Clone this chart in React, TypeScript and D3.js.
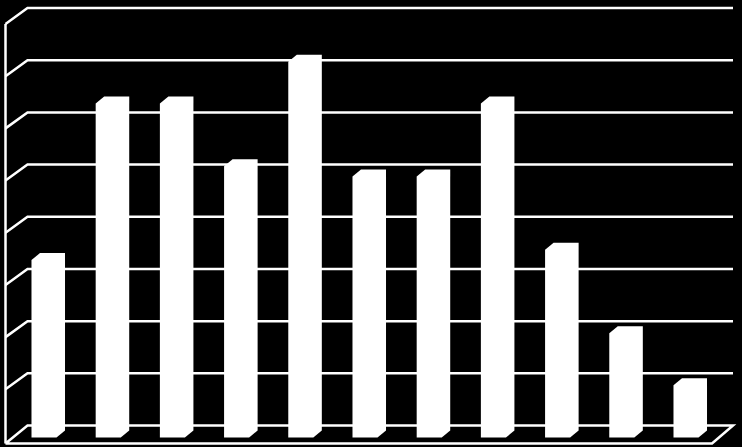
import React, { useEffect, useRef } from "react";
import * as d3 from "d3";

const categories = ["1", "2", "3", "4", "5", "6", "7", "8", "9", "10", "11"];
const values = [3.4, 6.4, 6.4, 5.2, 7.2, 5.0, 5.0, 6.4, 3.6, 2.0, 1.0];
const yTicks = [0, 1, 2, 3, 4, 5, 6, 7, 8];

export default function App() {
  const chartRef = useRef<SVGSVGElement | null>(null);

  useEffect(() => {
    const width = 742;
    const height = 447;
    // 3d offset between the front of the floor and the back wall
    const wallDx = 22;
    const wallDy = 18;
    // depth of a bar
    const barDx = 8.5;
    const barDy = 7;

    const chart = d3.select(chartRef.current);
    chart.selectAll("*").remove();

    chart
      .append("rect")
      .attr("width", width)
      .attr("height", height)
      .attr("fill", "#000");

    const xScale = d3
      .scaleBand()
      .domain(categories)
      .range([11.9, 718.1])
      .paddingInner(0.61)
      .paddingOuter(0.305);
    const yScale = d3.scaleLinear().domain([0, 8]).range([425.5, 8]);

    const line = d3.line();
    const grid = chart.append("g").attr("fill", "none").attr("stroke", "#fff").attr("stroke-width", 2.5);

    // grid lines, running along the left wall and then the back wall
    grid
      .selectAll("path.grid")
      .data(yTicks.slice(1))
      .enter()
      .append("path")
      .attr("class", "grid")
      .attr("d", (d) => {
        const y = yScale(d);
        return line([
          [5.5, y + wallDy - 2],
          [5.5 + wallDx, y],
          [733, y],
        ]);
      });

    // left wall edge
    grid.append("path").attr("d", line([
      [5.5, yScale(8) + wallDy - 2],
      [5.5, yScale(0) + wallDy],
    ]));

    // floor
    grid.append("path").attr("d", line([
      [5.5, yScale(0) + wallDy],
      [5.5 + wallDx, yScale(0)],
      [733, yScale(0)],
      [712, yScale(0) + wallDy],
      [5.5, yScale(0) + wallDy],
    ]));

    // bars, all faces white
    chart
      .append("g")
      .selectAll("path.bar")
      .data(values)
      .enter()
      .append("path")
      .attr("class", "bar")
      .attr("fill", "#fff")
      .attr("d", (d, i) => {
        const x = Number(xScale(categories[i]));
        const w = xScale.bandwidth();
        const topBack = yScale(d) + 5;
        const botBack = yScale(0) + 5;
        return (
          line([
            [x, topBack + barDy],
            [x + barDx, topBack],
            [x + w + barDx, topBack],
            [x + w + barDx, botBack],
            [x + w, botBack + barDy],
            [x, botBack + barDy],
          ]) + "Z"
        );
      });
  }, []);

  return (
    <svg
      ref={chartRef}
      width={742}
      height={447}
      style={{ position: "absolute", left: 0, top: 0, display: "block" }}
    />
  );
}
